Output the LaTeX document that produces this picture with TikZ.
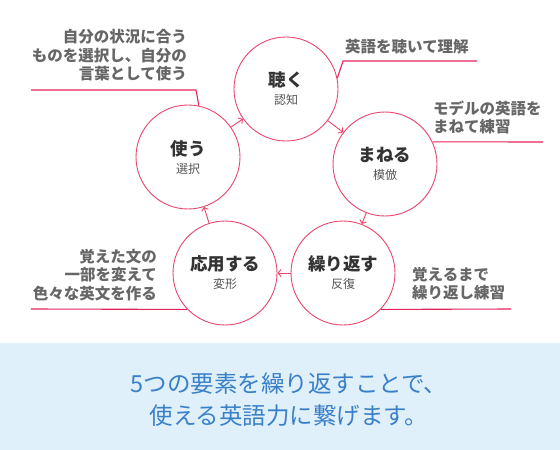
\documentclass[tikz,border=0pt]{standalone}
\usepackage{fontspec}
\setmainfont{Noto Sans CJK JP}
\usetikzlibrary{arrows.meta,positioning}
\definecolor{ringred}{HTML}{E8456C}
\definecolor{leadred}{HTML}{E3245A}
\definecolor{titlegray}{HTML}{333333}
\definecolor{subgray}{HTML}{555555}
\definecolor{notegray}{HTML}{666666}
\definecolor{bandblue}{HTML}{E0F0FA}
\definecolor{msgblue}{HTML}{3A80C8}
\tikzset{
  stage/.style={circle, draw=ringred, line width=0.9pt, minimum size=104pt, inner sep=0pt,
                align=center, text=titlegray},
  cycle/.style={draw=ringred, line width=0.9pt, -{Straight Barb[length=3pt,width=7pt]}},
  leader/.style={draw=leadred, line width=1.1pt},
  note/.style={inner sep=0pt, text=notegray, font=\bfseries\fontsize{15.5}{18.5}\selectfont},
  message/.style={inner sep=0pt, align=center, text=msgblue, font=\fontsize{23.5}{32}\selectfont}
}
\newcommand{\stagetext}[2]{{\bfseries\fontsize{17.5}{20}\selectfont #1}\\[6pt]
  {\color{subgray}\fontsize{12}{14}\selectfont #2}}

\begin{document}
\begin{tikzpicture}[x=1pt,y=-1pt]
      \useasboundingbox (0,0) rectangle (560,450);

      % Draw the five stages.
      \node[stage] (kiku) at (286,89) {\stagetext{聴く}{認知}};
      \node[stage] (maneru) at (385,164) {\stagetext{まねる}{模倣}};
      \node[stage] (kurikaesu) at (343,273) {\stagetext{繰り返す}{反復}};
      \node[stage] (ouyou) at (225,273) {\stagetext{応用する}{変形}};
      \node[stage] (tsukau) at (188,157) {\stagetext{使う}{選択}};

      % Arrows round the cycle.
      \draw[cycle] (tsukau) -- (kiku);
      \draw[cycle] (kiku) -- (maneru);
      \draw[cycle] (maneru) -- (kurikaesu);
      \draw[cycle] (kurikaesu) -- (ouyou);
      \draw[cycle] (ouyou) -- (tsukau);

      % Notes and their leader lines.
      \node[note, anchor=west] (kikunote) at (345,47) {英語を聴いて理解};
      \draw[leader] (kiku.12) -- (343,61) -- (477,61);

      \node[note, anchor=west, align=left] (manerunote) at (433,117.5) {モデルの英語を\\まねて練習};
      \draw[leader] (maneru.25) -- (543,142);

      \node[note, anchor=west, align=left] (kurikaesunote) at (412,283.5) {覚えるまで\\繰り返し練習};
      \draw[leader] (kurikaesu.316) -- (511,309);

      \node[note, anchor=east, align=right] (ouyounote) at (157,275) {覚えた文の\\一部を変えて\\色々な英文を作る};
      \draw[leader] (ouyou.224) -- (31,309);

      \node[note, anchor=east, align=right] (tsukaunote) at (187,55.5) {自分の状況に合う\\ものを選択し、自分の\\言葉として使う};
      \draw[leader] (tsukau.78) -- (196,90) -- (31,90);

      % Message band at the bottom.
      \fill[bandblue] (0,343) rectangle (560,450);
      \node[message] (msg) at (289,400) {5つの要素を繰り返すことで、\\使える英語力に繋げます。};

\end{tikzpicture}
\end{document}
